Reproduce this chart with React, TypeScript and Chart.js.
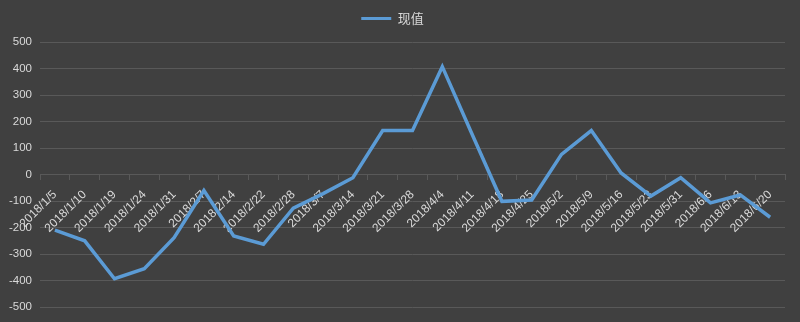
import React, { useEffect, useRef } from "react";
import { Chart, registerables } from "chart.js";

Chart.register(...registerables);

const categories: string[] = [
  "2018/1/5", "2018/1/10", "2018/1/19", "2018/1/24", "2018/1/31",
  "2018/2/7", "2018/2/14", "2018/2/22", "2018/2/28", "2018/3/7",
  "2018/3/14", "2018/3/21", "2018/3/28", "2018/4/4", "2018/4/11",
  "2018/4/18", "2018/4/25", "2018/5/2", "2018/5/9", "2018/5/16",
  "2018/5/23", "2018/5/31", "2018/6/6", "2018/6/13", "2018/6/20",
];

const presentValue: number[] = [
  -210, -250, -393, -355, -238,
  -60, -232, -263, -127, -72,
  -12, 166, 166, 407, 152,
  -101, -96, 76, 166, 6,
  -81, -12, -107, -77, -161,
];

const seriesName = "现值";
const yMin = -500;
const yMax = 500;
const yStep = 100;

const BG = "#404040";
const GRID = "#595959";
const TEXT = "#d9d9d9";
const LINE = "#5b9bd5";

export default function App() {
  const ref = useRef<HTMLCanvasElement | null>(null);

  useEffect(() => {
    document.body.style.margin = "0";
    document.body.style.background = BG;
    const canvas = ref.current;
    if (!canvas) return;
    const bgPlugin = {
      id: "bg",
      beforeDraw(chart: any) {
        const { ctx, width, height } = chart;
        ctx.save();
        ctx.fillStyle = BG;
        ctx.fillRect(0, 0, width, height);
        ctx.restore();
      },
    };
    const legendSpacing = {
      id: "legendSpacing",
      beforeInit(chart: any) {
        const legend = chart.legend;
        if (!legend) return;
        const origFit = legend.fit;
        legend.fit = function () {
          origFit.call(this);
          this.height += 7;
        };
      },
    };
    const chart = new Chart(canvas, {
      type: "line",
      data: {
        labels: categories,
        datasets: [
          {
            label: seriesName,
            data: presentValue,
            borderColor: LINE,
            backgroundColor: LINE,
            borderWidth: 3.5,
            pointRadius: 0,
            tension: 0,
            fill: false,
          },
        ],
      },
      options: {
        animation: false,
        responsive: false,
        maintainAspectRatio: false,
        layout: { padding: { left: 0, right: 15, top: 2, bottom: 9 } },
        plugins: {
          legend: {
            position: "top",
            labels: {
              color: TEXT,
              boxWidth: 30,
              boxHeight: 3,
              padding: 10,
              font: { family: "'Noto Sans CJK SC', sans-serif", size: 13 },
              generateLabels(chart: any) {
                return Chart.defaults.plugins.legend.labels
                  .generateLabels(chart)
                  .map((l: any) => ({ ...l, lineWidth: 0, fillStyle: LINE }));
              },
            },
          },
          tooltip: { enabled: false },
        },
        scales: {
          x: {
            type: "category",
            position: { y: 0 } as any,
            offset: true,
            grid: {
              offset: true,
              drawOnChartArea: false,
              drawTicks: true,
              tickLength: 5,
              color: GRID,
            },
            border: { display: true, color: GRID, width: 1 },
            ticks: {
              color: TEXT,
              autoSkip: false,
              minRotation: 45,
              maxRotation: 45,
              padding: 8,
              font: { family: "'Liberation Sans', sans-serif", size: 12 },
            },
          },
          y: {
            min: yMin,
            max: yMax,
            afterFit(scale: any) {
              scale.width = 40;
            },
            grid: { color: GRID, drawTicks: false, lineWidth: 1 },
            border: { display: false },
            ticks: {
              stepSize: yStep,
              color: TEXT,
              padding: 8,
              font: { family: "'Liberation Sans', sans-serif", size: 11.5 },
            },
          },
        },
      },
      plugins: [bgPlugin, legendSpacing],
    });
    return () => chart.destroy();
  }, []);

  return (
    <div style={{ width: 800, height: 322, background: BG }}>
      <canvas ref={ref} width={800} height={322} style={{ display: "block" }} />
    </div>
  );
}
